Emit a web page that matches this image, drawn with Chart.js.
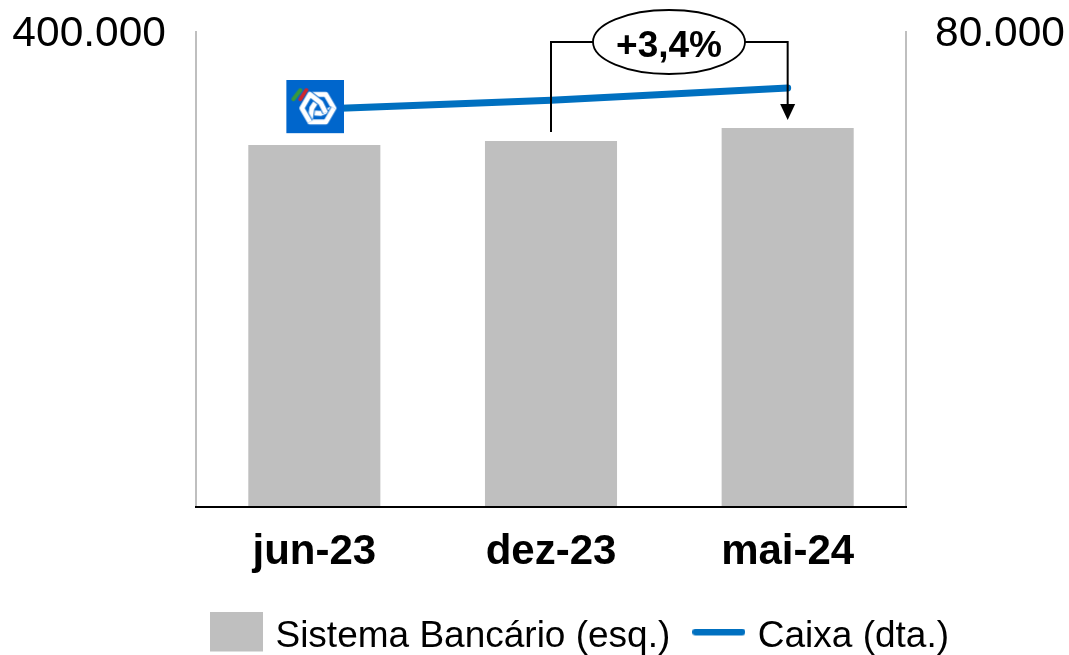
<!DOCTYPE html>
<html><head><meta charset="utf-8">
<style>html,body{margin:0;padding:0;background:#fff}canvas{display:block}</style>
<script src="https://cdn.jsdelivr.net/npm/chart.js@4"></script></head>
<body><canvas id="c" width="1069" height="655"></canvas>
<script>
const categories = ["jun-23", "dez-23", "mai-24"];
const bancario = [304800, 308200, 319200];
const caixa = [67000, 68500, 70570];
const leftTicks = [400000];
const rightTicks = [80000];
const barLabel = "Sistema Bancário (esq.)";
const lineLabel = "Caixa (dta.)";
const changeLabel = "+3,4%";
const FONT = '"Liberation Sans", Arial, sans-serif';

function swatch(w, h, draw) {
  const c = document.createElement('canvas'); c.width = w; c.height = h;
  draw(c.getContext('2d'), w, h); return c;
}
const barSwatch = swatch(53, 50, (g, w) => { g.fillStyle = '#bfbfbf'; g.fillRect(0, 0, w, 40); });
const lineSwatch = swatch(53, 16, (g, w) => {
  g.strokeStyle = '#0070c0'; g.lineWidth = 7; g.lineCap = 'round';
  g.beginPath(); g.moveTo(3.5, 3.5); g.lineTo(w - 3.5, 3.5); g.stroke();
});
const logo = swatch(60, 58, (g) => {
  g.translate(2, 0);
  g.fillStyle = '#0066cc'; g.fillRect(0, 0, 58, 53);
  g.lineCap = 'round';
  g.strokeStyle = '#3a9a3a'; g.lineWidth = 4;
  g.beginPath(); g.moveTo(7, 19); g.lineTo(14, 10); g.stroke();
  g.strokeStyle = '#d0262c';
  g.beginPath(); g.moveTo(14, 19); g.lineTo(20, 10); g.stroke();
  const cx = 31.5, cy = 28;
  const pol = (r, a) => [cx + r * Math.cos(a * Math.PI / 180), cy + r * Math.sin(a * Math.PI / 180)];
  g.lineJoin = 'round'; g.lineCap = 'butt';
  for (let k = 0; k < 3; k++) {
    const a = -120 + k * 120;
    const pts = [pol(16, a), pol(16, a + 60), pol(16, a + 120), pol(6, a + 180), pol(9, a - 90)];
    const path = () => { g.beginPath(); pts.forEach((q, i) => i ? g.lineTo(q[0], q[1]) : g.moveTo(q[0], q[1])); g.stroke(); };
    g.strokeStyle = '#0066cc'; g.lineWidth = 7; path();
    g.strokeStyle = '#ffffff'; g.lineWidth = 5; path();
  }
});

const bracketPlugin = {
  id: 'bracket',
  afterLayout(chart) {
    const l = chart.legend; const dx = 48;
    l.left += dx; l.right += dx;
    const dy = 590 - l.top; l.top += dy; l.bottom += dy;
    const plotTop = 32;
    chart.chartArea.top = plotTop;
    chart.chartArea.height = chart.chartArea.bottom - plotTop;
    [chart.scales.y, chart.scales.y1].forEach(s => {
      s.top = plotTop; s.height = s.bottom - plotTop; s.configure();
    });
  },
  afterDatasetsDraw(chart) {
    const { ctx, scales: { x } } = chart;
    const xa = x.getPixelForValue(1), xb = x.getPixelForValue(2);
    const yTop = 42, cx = 669, rx = 76, ry = 32;
    ctx.save();
    ctx.strokeStyle = '#000'; ctx.lineWidth = 2; ctx.lineJoin = 'miter';
    ctx.beginPath();
    ctx.moveTo(xa, 132); ctx.lineTo(xa, yTop); ctx.lineTo(cx - rx, yTop);
    ctx.moveTo(cx + rx, yTop); ctx.lineTo(xb, yTop); ctx.lineTo(xb, 106);
    ctx.stroke();
    ctx.fillStyle = '#000';
    ctx.beginPath(); ctx.moveTo(xb - 7.5, 104); ctx.lineTo(xb + 7.5, 104); ctx.lineTo(xb, 120); ctx.closePath(); ctx.fill();
    ctx.fillStyle = '#fff'; ctx.lineWidth = 1.8;
    ctx.beginPath(); ctx.ellipse(cx, yTop, rx, ry, 0, 0, Math.PI * 2); ctx.fill(); ctx.stroke();
    ctx.fillStyle = '#000'; ctx.font = 'bold 37px ' + FONT;
    ctx.textAlign = 'center'; ctx.textBaseline = 'middle';
    ctx.fillText(changeLabel, cx, yTop + 5);
    ctx.restore();
  }
};
const fmt = v => (v === 0 ? '' : v.toLocaleString('de-DE'));
new Chart(document.getElementById('c'), {
  data: {
    labels: categories,
    datasets: [
      { type: 'line', label: lineLabel, data: caixa, yAxisID: 'y1', order: 1,
        borderColor: '#0070c0', backgroundColor: '#0070c0', borderWidth: 7, borderCapStyle: 'round',
        tension: 0, pointStyle: [logo, false, false], pointRadius: [29, 0, 0], pointHoverRadius: 0 },
      { type: 'bar', label: barLabel, data: bancario, yAxisID: 'y', order: 2,
        backgroundColor: '#bfbfbf', borderWidth: 0, categoryPercentage: 1, barPercentage: 0.558 }
    ]
  },
  options: {
    responsive: false, animation: false,
    layout: { padding: 0 },
    scales: {
      x: { grid: { display: false, drawTicks: false },
        border: { color: '#000', width: 2, z: 5 },
        ticks: { color: '#000', padding: 20, maxRotation: 0, font: { family: FONT, size: 42, weight: 'bold' } },
        afterFit: s => { s.height = 73; s.paddingLeft = 0; s.paddingRight = 0; } },
      y: { position: 'left', min: 0, max: 400000, grid: { display: false, drawTicks: false },
        border: { color: '#bfbfbf', width: 2 },
        afterBuildTicks: s => { s.ticks = [{ value: 0 }, ...leftTicks.map(v => ({ value: v }))]; },
        ticks: { color: '#000', padding: 30, labelOffset: 2, callback: fmt, font: { family: FONT, size: 42.5 } },
        afterFit: s => { s.width = 196; s.paddingTop = 29; s.paddingBottom = 0; } },
      y1: { position: 'right', min: 0, max: 80000, grid: { display: false, drawTicks: false },
        border: { color: '#bfbfbf', width: 2 },
        afterBuildTicks: s => { s.ticks = [{ value: 0 }, ...rightTicks.map(v => ({ value: v }))]; },
        ticks: { color: '#000', padding: 29, labelOffset: 2, callback: fmt, font: { family: FONT, size: 42.5 } },
        afterFit: s => { s.width = 163; s.paddingTop = 29; s.paddingBottom = 0; } }
    },
    plugins: {
      tooltip: { enabled: false },
      legend: { position: 'bottom',
        labels: { usePointStyle: true, pointStyleWidth: 41, padding: 28, color: '#000',
          font: { family: FONT, size: 37 },
          generateLabels: () => [
            { text: barLabel, pointStyle: barSwatch, datasetIndex: 1, hidden: false, lineWidth: 0, fontColor: '#000' },
            { text: lineLabel, pointStyle: lineSwatch, datasetIndex: 0, hidden: false, lineWidth: 0, fontColor: '#000' }
          ] } }
    }
  },
  plugins: [bracketPlugin]
});
</script></body></html>
